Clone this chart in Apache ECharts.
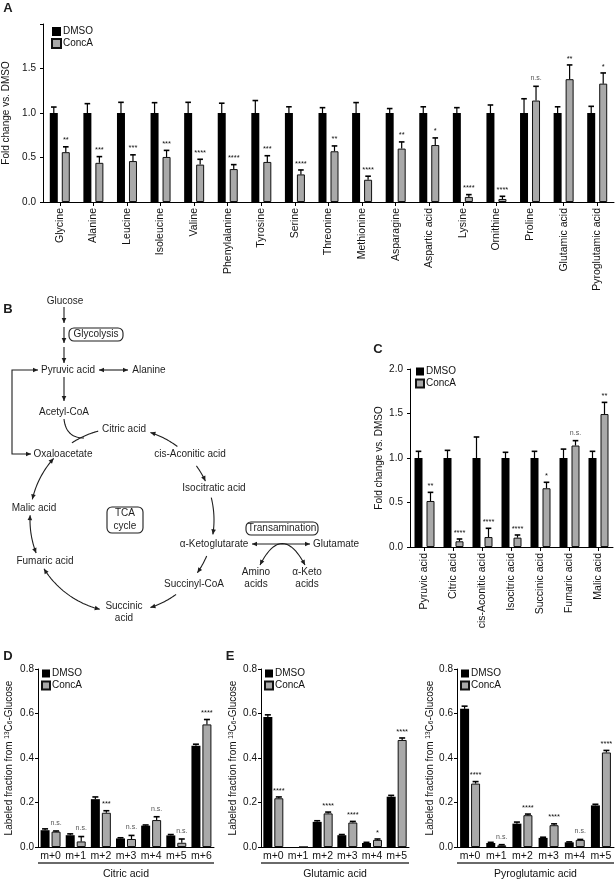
<!DOCTYPE html>
<html><head><meta charset="utf-8">
<script src="https://cdn.jsdelivr.net/npm/echarts@6/dist/echarts.min.js"></script>
<style>html,body{margin:0;padding:0;background:#fff}#c{width:615px;height:882px}</style>
</head><body><div id="c"></div>
<script>
const FONT = '"Liberation Sans", Arial, Helvetica, sans-serif';
const GREY = '#a9a9a9';
const INK = '#1e1e1e';

// ---------- Panel A ----------
const aCategories = ['Glycine','Alanine','Leucine','Isoleucine','Valine','Phenylalanine','Tyrosine','Serine','Threonine','Methionine','Asparagine','Aspartic acid','Lysine','Ornithine','Proline','Glutamic acid','Pyroglutamic acid'];
const aDMSO     = [1,1,1,1,1,1,1,1,1,1,1,1,1,1,1,1,1];
const aDMSOErr  = [0.067,0.105,0.12,0.116,0.12,0.11,0.14,0.07,0.06,0.117,0.05,0.07,0.06,0.09,0.16,0.07,0.075];
const aConcA    = [0.56,0.44,0.46,0.506,0.42,0.37,0.45,0.31,0.57,0.25,0.60,0.64,0.057,0.034,1.14,1.38,1.33];
const aConcAErr = [0.06,0.07,0.07,0.074,0.06,0.05,0.07,0.05,0.06,0.04,0.075,0.08,0.026,0.03,0.16,0.16,0.12];
const aSig      = ['**','***','***','***','****','****','***','****','**','****','**','*','****','****','n.s.','**','*'];
const aYTicks   = ['0.0','0.5','1.0','1.5',''];

// ---------- Panel C ----------
const cCategories = ['Pyruvic acid','Citric acid','cis-Aconitic acid','Isocitric acid','Succinic acid','Fumaric acid','Malic acid'];
const cDMSO     = [1,1,1,1,1,1,1];
const cDMSOErr  = [0.075,0.086,0.236,0.064,0.075,0.10,0.075];
const cConcA    = [0.517,0.064,0.112,0.105,0.66,1.14,1.494];
const cConcAErr = [0.097,0.026,0.098,0.03,0.067,0.055,0.131];
const cSig      = ['**','****','****','****','*','n.s.','**'];
const cYTicks   = ['0.0','0.5','1.0','1.5','2.0'];

// ---------- Panel D (Citric acid) ----------
const dCategories = ['m+0','m+1','m+2','m+3','m+4','m+5','m+6'];
const dDMSO     = [0.0755,0.053,0.215,0.0385,0.096,0.052,0.455];
const dDMSOErr  = [0.006,0.006,0.01,0.003,0.003,0.004,0.007];
const dConcA    = [0.069,0.025,0.154,0.036,0.121,0.019,0.551];
const dConcAErr = [0.003,0.022,0.009,0.016,0.015,0.017,0.022];
const dSig      = ['n.s.','n.s.','***','n.s.','n.s.','n.s.','****'];

// ---------- Panel E (Glutamic acid) ----------
const eCategories = ['m+0','m+1','m+2','m+3','m+4','m+5'];
const eDMSO     = [0.584,0,0.113,0.053,0.018,0.226];
const eDMSOErr  = [0.01,0,0.005,0.003,0.003,0.006];
const eConcA    = [0.219,0,0.151,0.110,0.032,0.481];
const eConcAErr = [0.006,0,0.006,0.005,0.004,0.009];
const eSig      = ['****','','****','****','*','****'];

// ---------- Panel E (Pyroglutamic acid) ----------
const pCategories = ['m+0','m+1','m+2','m+3','m+4','m+5'];
const pDMSO     = [0.621,0.018,0.105,0.041,0.021,0.187];
const pDMSOErr  = [0.012,0.003,0.007,0.003,0.002,0.005];
const pConcA    = [0.285,0.0075,0.143,0.098,0.032,0.425];
const pConcAErr = [0.009,0.003,0.005,0.006,0.002,0.009];
const pSig      = ['****','n.s.','****','****','n.s.','****'];
const lYTicks   = ['0.0','0.2','0.4','0.6','0.8'];

// ---------- layout ----------
const grids = [
  {left:43,  top:24,  width:571, height:178},  // A
  {left:410, top:369, width:203, height:178},  // C
  {left:38,  top:669, width:176, height:178},  // D
  {left:261, top:669, width:148, height:178},  // E glutamic
  {left:457, top:669, width:157, height:178}   // E pyroglutamic
];

function tickFmt(ticks, step){ return v => ticks[Math.round(v/step)] ?? ''; }

function xCat(gi, data, rotated, name){
  const ax = {
    type:'category', gridIndex:gi, data:data,
    axisLine:{show:true, lineStyle:{color:'#000', width:1}},
    axisTick:{show:rotated, alignWithLabel:true, length:4, lineStyle:{color:'#000'}},
    axisLabel:{interval:0, rotate:rotated?90:0, margin:rotated?6:4, fontSize:10.5, fontFamily:FONT, color:'#111'},
    splitLine:{show:false}
  };
  if (name){
    ax.name = name; ax.nameLocation = 'middle'; ax.nameGap = 22;
    ax.nameTextStyle = {fontSize:10.5, fontFamily:FONT, color:'#111'};
  }
  return ax;
}
function yVal(gi, max, step, ticks, name, gap, rich){
  return {
    type:'value', gridIndex:gi, min:0, max:max, interval:step,
    axisLine:{show:true, lineStyle:{color:'#000', width:1}},
    axisTick:{show:true, length:3, lineStyle:{color:'#000'}},
    axisLabel:{margin: max>1?7:4, fontSize:10, fontFamily:FONT, color:'#111', formatter:tickFmt(ticks, step)},
    splitLine:{show:false},
    name:name, nameLocation:'middle', nameGap:gap,
    nameTextStyle:{fontSize:10, fontFamily:FONT, color:'#111', rich:rich}
  };
}
const supRich = {
  sup:{fontSize:6.5, fontFamily:FONT, color:'#111', verticalAlign:'top'},
  sub:{fontSize:6.5, fontFamily:FONT, color:'#111', verticalAlign:'bottom'}
};
const labName = 'Labeled fraction from {sup|13}C{sub|6}-Glucose';

function bars(gi, d, c, bw, gap){
  return [
    {name:'DMSO', type:'bar', xAxisIndex:gi, yAxisIndex:gi, data:d, barWidth:bw, barGap:gap,
     itemStyle:{color:'#000', borderColor:'#000', borderWidth:0}, silent:true},
    {name:'ConcA', type:'bar', xAxisIndex:gi, yAxisIndex:gi, data:c, barWidth:bw, barGap:gap,
     itemStyle:{color:GREY, borderColor:'#111', borderWidth:1}, silent:true}
  ];
}
function errs(gi, means, es, sigs, offset, capHalf){
  return {
    type:'custom', xAxisIndex:gi, yAxisIndex:gi, z:5, silent:true,
    data: means.map((m,i)=>[i, m, es[i]]),
    encode:{x:0, y:1},
    renderItem:function(params, api){
      const i = params.dataIndex;
      const m = means[i], e = es[i];
      const sig = sigs ? sigs[i] : '';
      const base = api.coord([i, m]);
      const top = api.coord([i, m+e]);
      const x = base[0] + offset;
      const ch = [];
      if (m > 0 && e > 0){
        ch.push({type:'line', shape:{x1:x, y1:base[1], x2:x, y2:top[1]}, style:{stroke:'#000', lineWidth:1.2}});
        ch.push({type:'line', shape:{x1:x-capHalf, y1:top[1], x2:x+capHalf, y2:top[1]}, style:{stroke:'#000', lineWidth:1.6}});
      }
      if (sig){
        const ast = sig.indexOf('*') >= 0;
        ch.push({type:'text', style:{text:sig, x:x, y:top[1] - (ast?2.5:4.5),
          align:'center', verticalAlign:'bottom', textAlign:'center', textVerticalAlign:'bottom',
          font:(ast?'7.5px ':'7px ')+FONT, fill: ast?'#111':'#555'}});
      }
      return {type:'group', children:ch};
    }
  };
}

function legend(left, top, size){
  return {
    left:left, top:top, orient:'vertical', itemWidth:size, itemHeight:size, itemGap:1, padding:0,
    selectedMode:false,
    data:[{name:'DMSO', icon:'rect'}, {name:'ConcA', icon:'rect'}],
    textStyle:{fontSize:10, fontFamily:FONT, color:'#111', lineHeight:11, padding:[0,0,0,-3]}
  };
}

// ---------- Panel B diagram + letters (graphic) ----------
const gfx = [];
function txt(s, x, y, size, bold, align){
  gfx.push({type:'text', silent:true, z:10,
    style:{text:s, x:x, y:y, fill:INK, font:(bold?'bold ':'')+(size||10)+'px '+FONT,
      align:align||'center', verticalAlign:'middle', textAlign:align||'center', textVerticalAlign:'middle'}});
}
function head(x, y, dx, dy){
  const L = Math.hypot(dx, dy), ux = dx/L, uy = dy/L, len = 5, w = 2.3;
  const bx = x-ux*len, by = y-uy*len;
  gfx.push({type:'polygon', silent:true, z:10, shape:{points:[[x,y],[bx-uy*w, by+ux*w],[bx+uy*w, by-ux*w]]}, style:{fill:INK}});
}
function seg(pts){
  gfx.push({type:'polyline', silent:true, z:10, shape:{points:pts}, style:{stroke:INK, lineWidth:1.1, fill:null}});
}
function arrow(x1,y1,x2,y2,hs,he){
  seg([[x1,y1],[x2,y2]]);
  if (he) head(x2,y2,x2-x1,y2-y1);
  if (hs) head(x1,y1,x1-x2,y1-y2);
}
const CX = 122, CY = 520, CR = 92;
function arc(a1, a2, hs, he){
  const pts = [], n = 24;
  for (let k=0;k<=n;k++){ const a=(a1+(a2-a1)*k/n)*Math.PI/180; pts.push([CX+CR*Math.cos(a), CY+CR*Math.sin(a)]); }
  seg(pts);
  if (he){ const a=a2*Math.PI/180; head(pts[n][0], pts[n][1], -Math.sin(a), Math.cos(a)); }
  if (hs){ const a=a1*Math.PI/180; head(pts[0][0], pts[0][1], Math.sin(a), -Math.cos(a)); }
}
function box(x, y, w, h){
  gfx.push({type:'rect', silent:true, z:10, shape:{x:x, y:y, width:w, height:h, r:5}, style:{fill:null, stroke:INK, lineWidth:1.1}});
}
function quad(x1,y1,cx,cy,x2,y2,hs,he){
  const pts=[], n=20;
  for (let k=0;k<=n;k++){ const t=k/n, u=1-t; pts.push([u*u*x1+2*u*t*cx+t*t*x2, u*u*y1+2*u*t*cy+t*t*y2]); }
  seg(pts);
  if (he) head(x2,y2,x2-cx,y2-cy);
  if (hs) head(x1,y1,x1-cx,y1-cy);
}

// panel letters
txt('A', 8, 8, 13, true);
txt('B', 8, 309, 13, true);
txt('C', 378, 349, 13, true);
txt('D', 8, 656, 13, true);
txt('E', 230, 656, 13, true);

// B labels
txt('Glucose', 65, 301);
txt('Glycolysis', 96, 334.5);
txt('Pyruvic acid', 68, 370);
txt('Alanine', 149, 370);
txt('Acetyl-CoA', 64, 412);
txt('Citric acid', 124, 429);
txt('Oxaloacetate', 63, 454);
txt('cis-Aconitic acid', 190, 454);
txt('Isocitratic acid', 214, 488);
txt('TCA', 125, 513.5);
txt('cycle', 125, 526);
txt('Malic acid', 34, 508);
txt('\u03b1-Ketoglutarate', 214, 544);
txt('Glutamate', 313, 544, 10, false, 'left');
txt('Transamination', 282, 528.5);
txt('Fumaric acid', 45, 561);
txt('Amino', 256, 572); txt('acids', 256, 584);
txt('\u03b1-Keto', 307, 572); txt('acids', 307, 584);
txt('Succinyl-CoA', 194, 584);
txt('Succinic', 124, 606); txt('acid', 124, 618);

box(69, 328, 54, 13);
box(107, 507, 36, 26);
box(246, 522, 72, 13);

arrow(64, 307, 64, 323, false, true);
arrow(64, 327, 64, 343, false, true);
arrow(64, 347, 64, 363, false, true);
arrow(64, 377, 64, 401, false, true);
arrow(99, 370, 128, 370, true, true);
seg([[38,370],[12,370],[12,454],[31,454]]);
head(38, 370, 1, 0); head(31, 454, 1, 0);
arrow(252, 544, 310, 544, true, true);
quad(260, 565, 282, 522, 305, 565, true, true);
quad(64, 419, 66, 438, 84, 438, false, false);

arc(237, 255, false, false);   // Oxaloacetate -> Citric acid
arc(-72, -53, true, false);    // cis-Aconitic -> Citric acid
arc(-36, -25, false, true);    // cis-Aconitic -> Isocitratic
arc(-14, 9, false, true);      // Isocitratic -> a-KG
arc(23, 35, false, true);      // a-KG -> Succinyl-CoA
arc(54, 72, false, true);      // Succinyl-CoA -> Succinic
arc(104, 148, true, true);     // Succinic - Fumaric
arc(159, 183, true, true);     // Fumaric - Malic
arc(193, 222, true, true);     // Malic - Oxaloacetate

// grey underlines for D / E
[2,3,4].forEach(gi => {
  const g = grids[gi];
  gfx.push({type:'line', silent:true, shape:{x1:g.left, y1:863, x2:g.left+g.width, y2:863}, style:{stroke:'#6a6a6a', lineWidth:2}});
});

const option = {
  animation:false,
  backgroundColor:'#fff',
  textStyle:{fontFamily:FONT},
  grid: grids.map(g => Object.assign({containLabel:false, outerBoundsMode:'none'}, g)),
  xAxis:[
    xCat(0, aCategories, true),
    xCat(1, cCategories, true),
    xCat(2, dCategories, false, 'Citric acid'),
    xCat(3, eCategories, false, 'Glutamic acid'),
    xCat(4, pCategories, false, 'Pyroglutamic acid')
  ],
  yAxis:[
    yVal(0, 2, 0.5, aYTicks, 'Fold change vs. DMSO', 31),
    yVal(1, 2, 0.5, cYTicks, 'Fold change vs. DMSO', 26),
    yVal(2, 0.8, 0.2, lYTicks, labName, 24, supRich),
    yVal(3, 0.8, 0.2, lYTicks, labName, 23, supRich),
    yVal(4, 0.8, 0.2, lYTicks, labName, 22, supRich)
  ],
  legend:[
    legend(51, 26, 9),
    legend(415, 366, 8),
    legend(41, 668, 8),
    legend(264, 668, 8),
    legend(460, 668, 8)
  ],
  series:[
    ...bars(0, aDMSO, aConcA, 8, '50%'),
    errs(0, aDMSO, aDMSOErr, null, -6, 2.8),
    errs(0, aConcA, aConcAErr, aSig, 6, 2.8),
    ...bars(1, cDMSO, cConcA, 8, '50%'),
    errs(1, cDMSO, cDMSOErr, null, -6, 2.8),
    errs(1, cConcA, cConcAErr, cSig, 6, 2.8),
    ...bars(2, dDMSO, dConcA, 9, '22%'),
    errs(2, dDMSO, dDMSOErr, null, -5.5, 3),
    errs(2, dConcA, dConcAErr, dSig, 5.5, 3),
    ...bars(3, eDMSO, eConcA, 9, '22%'),
    errs(3, eDMSO, eDMSOErr, null, -5.5, 3),
    errs(3, eConcA, eConcAErr, eSig, 5.5, 3),
    ...bars(4, pDMSO, pConcA, 9, '22%'),
    errs(4, pDMSO, pDMSOErr, null, -5.5, 3),
    errs(4, pConcA, pConcAErr, pSig, 5.5, 3)
  ],
  graphic:{elements:gfx}
};
const chart = echarts.init(document.getElementById('c'));
chart.setOption(option);
</script></body></html>
